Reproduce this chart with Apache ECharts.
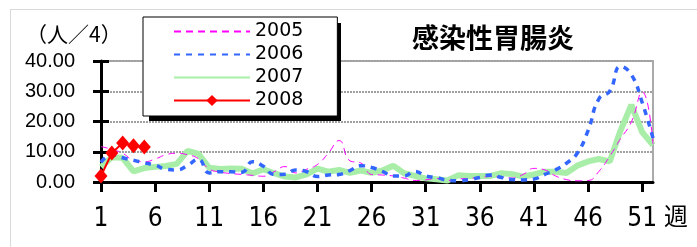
<!DOCTYPE html>
<html>
<head>
<meta charset="utf-8">
<script src="https://cdn.jsdelivr.net/npm/echarts@6/dist/echarts.min.js"></script>
<style>
  html, body { margin: 0; padding: 0; background: #fff; }
  #main { width: 697px; height: 247px; }
</style>
</head>
<body>
<div id="main"></div>
<script>
// weeks 1..52
const weeks = [];
for (let i = 1; i <= 52; i++) weeks.push(String(i));

const seriesNames = ["2005", "2006", "2007", "2008"];

const y2005 = [11.7, 10.8, 9.5, 7.2, 6.7, 7.6, 9.0, 9.5, 9.0, 7.7, 4.3, 3.3, 2.8, 2.5, 2.2, 1.9, 3.4, 5.1, 3.0, 4.2,
  5.8, 9.5, 13.7, 7.0, 6.3, 2.5, 2.3, 2.0, 1.3, 0.5, 0.7, 1.2, 0.5, 1.0, 1.2, 1.5, 1.8, 1.6, 1.3, 2.5,
  4.5, 4.0, 2.0, 0.8, 0.4, 0.5, 3.5, 8.5, 14.3, 19.8, 29.8, 12.5];
const y2006 = [6.5, 9.0, 8.0, 7.2, 6.3, 5.6, 4.2, 4.0, 5.5, 7.5, 3.0, 3.4, 3.4, 3.2, 6.7, 5.2, 2.5, 2.6, 4.0, 3.4,
  1.8, 2.3, 2.5, 3.8, 5.4, 4.8, 3.5, 2.0, 2.0, 3.5, 2.0, 1.5, 0.6, 0.4, 0.8, 1.5, 2.3, 1.5, 0.8, 0.7,
  1.0, 2.5, 4.0, 6.2, 9.5, 17.0, 27.5, 30.0, 38.2, 35.5, 26.3, 14.5];
const y2007 = [5.0, 8.2, 8.0, 3.5, 4.6, 5.0, 5.3, 6.0, 10.3, 9.3, 4.7, 4.3, 4.5, 4.4, 2.8, 4.2, 2.9, 1.8, 1.5, 2.5,
  4.4, 3.4, 4.0, 3.0, 3.8, 3.0, 3.8, 5.4, 2.9, 2.0, 1.2, 0.9, 0.5, 2.2, 2.0, 2.0, 2.0, 2.9, 2.6, 1.8,
  2.5, 3.4, 3.4, 3.0, 5.4, 6.8, 7.6, 6.8, 17.0, 25.5, 16.5, 12.2];
const y2008 = [2.0, 9.6, 12.9, 12.0, 11.6];

const myChart = echarts.init(document.getElementById("main"));

// legend entries: lines only, except 2008 which keeps its diamond
const legendData = seriesNames.map(function (name) {
  if (name === "2008") return { name: name };
  return { name: name, itemStyle: { opacity: 0 } };
});

const option = {
  animation: false,
  backgroundColor: "#fff",
  graphic: [
    // outer frame
    {
      type: "rect", left: 8, top: 7, z: 0, silent: true,
      shape: { width: 700, height: 238 },
      style: { fill: "none", stroke: "#b4b4b4", lineWidth: 1, lineDash: [1, 1] }
    },
    // legend box shadow
    {
      type: "rect", left: 149, top: 23, z: 15, silent: true,
      shape: { width: 192, height: 98 },
      style: { fill: "#000" }
    },
    {
      type: "text", left: 412, top: 24, z: 10,
      style: { text: "感染性胃腸炎", font: "bold 27px 'Noto Sans CJK JP'", fill: "#000" }
    },
    {
      type: "text", left: 26, top: 24, z: 10,
      style: { text: "（人／4）", font: "21px 'Noto Sans CJK JP'", fill: "#000" }
    },
    {
      type: "text", left: 664, top: 204, z: 10,
      style: { text: "週", font: "24px 'Noto Sans CJK JP'", fill: "#000" }
    }
  ],
  legend: {
    data: legendData,
    orient: "vertical",
    left: 143,
    top: 17,
    itemWidth: 76,
    itemHeight: 14,
    itemGap: 4,
    padding: [5, 34, 6, 30],
    backgroundColor: "#fff",
    borderColor: "#000",
    borderWidth: 1,
    z: 20,
    textStyle: { fontFamily: "DejaVu Sans", fontSize: 19, color: "#000" }
  },
  grid: {
    left: 101, right: 44, top: 61, bottom: 65,
    show: true, backgroundColor: "#fff", borderColor: "#aaaaaa", borderWidth: 2
  },
  xAxis: {
    type: "category",
    data: weeks,
    boundaryGap: false,
    axisLine: { lineStyle: { color: "#000", width: 3 } },
    axisTick: { interval: 4, length: 10, lineStyle: { color: "#000", width: 3 } },
    axisLabel: {
      interval: 4, margin: 24, color: "#000",
      fontFamily: "Liberation Sans Narrow, DejaVu Sans Condensed, sans-serif", fontSize: 26
    },
    splitLine: { show: false }
  },
  yAxis: [
    {
      type: "value", min: 0, max: 40, interval: 10,
      axisLine: { show: true, lineStyle: { color: "#000", width: 3 } },
      axisTick: { show: true, length: 8, lineStyle: { color: "#000", width: 3 } },
      axisLabel: {
        margin: 26, color: "#000", fontFamily: "Liberation Sans", fontSize: 20,
        formatter: function (v) { return v.toFixed(2); }
      },
      splitLine: { lineStyle: { color: "#a0a0a0", width: 2, type: [2, 1] } }
    },
    {
      // inner half of the cross ticks
      type: "value", min: 0, max: 40, interval: 10, position: "left",
      axisLine: { show: false },
      axisTick: { show: true, inside: true, length: 8, lineStyle: { color: "#000", width: 3 } },
      axisLabel: { show: false },
      splitLine: { show: false }
    }
  ],
  series: [
    {
      name: "2005", type: "line", data: y2005, smooth: true, symbol: "none", z: 3,
      lineStyle: { color: "#ff00ff", width: 1, type: [7, 5] },
      itemStyle: { color: "#ff00ff" }
    },
    {
      name: "2006", type: "line", data: y2006, smooth: true, symbol: "none", z: 4,
      lineStyle: { color: "#3366ff", width: 3.5, type: [6, 6] },
      itemStyle: { color: "#3366ff" }
    },
    {
      name: "2007", type: "line", data: y2007, symbol: "none", z: 2,
      lineStyle: { color: "#a8eea8", width: 6 },
      itemStyle: { color: "#a8eea8" }
    },
    {
      name: "2008", type: "line", data: y2008, symbol: "diamond", symbolSize: [13, 15],
      showAllSymbol: true, z: 6,
      lineStyle: { color: "#ff0000", width: 2 },
      itemStyle: { color: "#ff0000" }
    }
  ]
};

myChart.setOption(option);
</script>
</body>
</html>
